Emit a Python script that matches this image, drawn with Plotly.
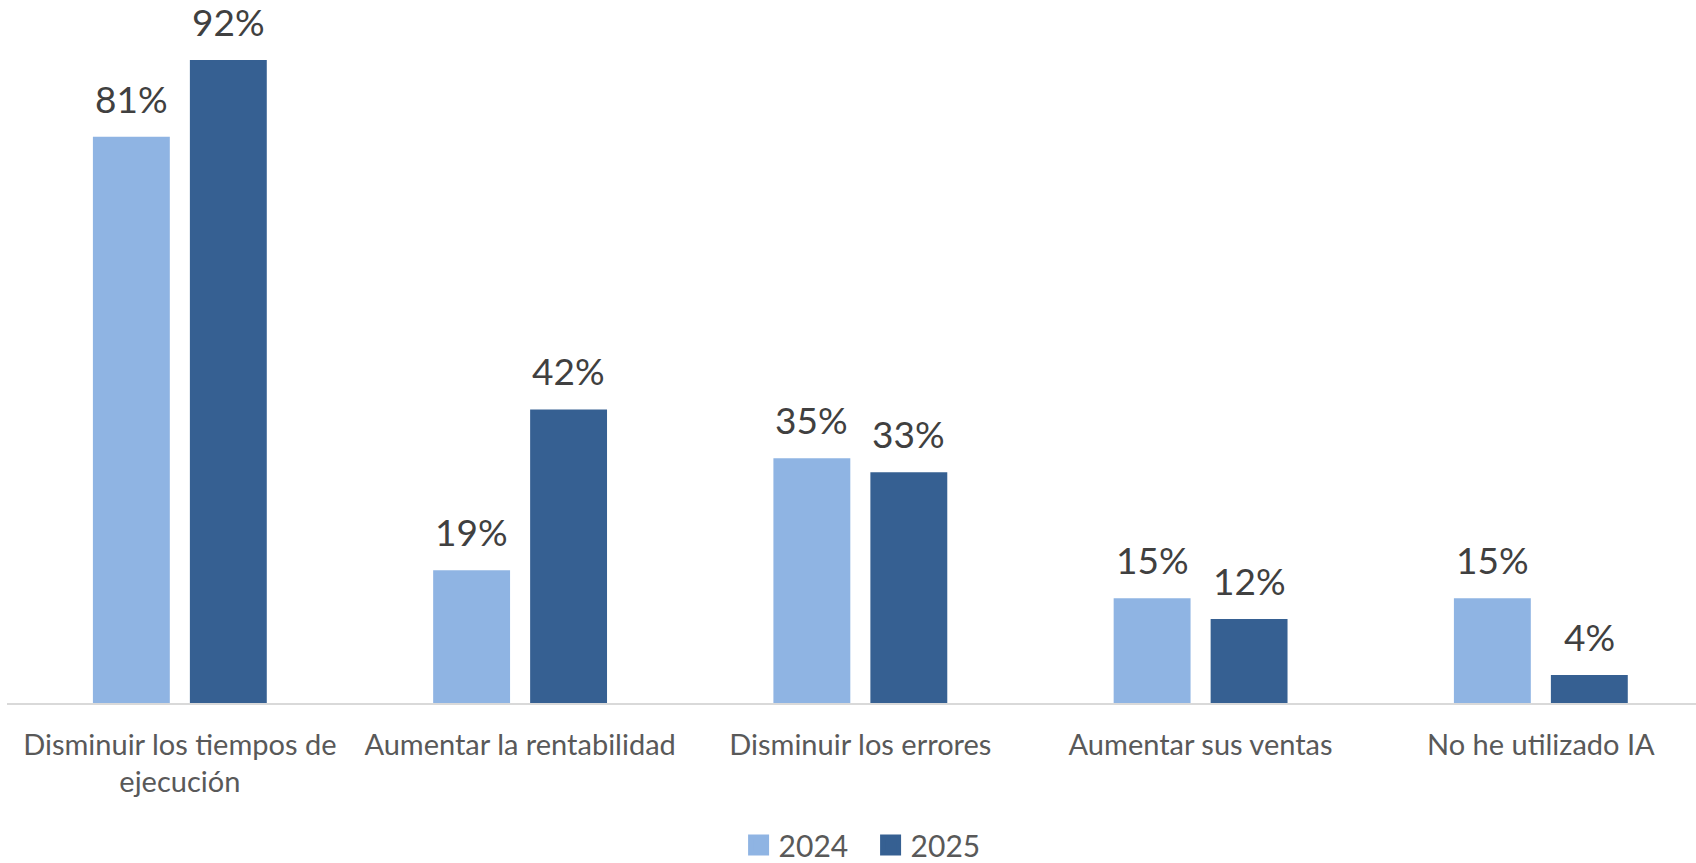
import plotly.graph_objects as go

categories = [
    "Disminuir los tiempos de<br>ejecución",
    "Aumentar la rentabilidad",
    "Disminuir los errores",
    "Aumentar sus ventas",
    "No he utilizado IA",
]
series_names = ["2024", "2025"]
values_2024 = [0.81, 0.19, 0.35, 0.15, 0.15]
values_2025 = [0.92, 0.42, 0.33, 0.12, 0.04]
colors = ["#8FB4E3", "#366092"]

FONT = "Lato"
label_color = "#404040"
axis_text_color = "#595959"

fig = go.Figure()
for name, vals, col in zip(series_names, [values_2024, values_2025], colors):
    fig.add_trace(go.Bar(
        x=categories, y=vals, name=name, marker=dict(color=col, line=dict(width=0)),
        showlegend=False, hoverinfo="skip",
    ))
# legend-only proxies with larger square swatches
for name, col in zip(series_names, colors):
    fig.add_trace(go.Scatter(
        x=[None], y=[None], mode="markers", name=name,
        marker=dict(symbol="square", size=16, color=col, line=dict(color=col, width=5)),
        showlegend=True,
    ))

# value labels above bars
annotations = []
for vals, shift in zip([values_2024, values_2025], [-48.5, 48.5]):
    for c, v in zip(categories, vals):
        annotations.append(dict(
            x=c, y=v, xref="x", yref="y", text=f"{round(v*100)}%",
            showarrow=False, xanchor="center", yanchor="bottom",
            xshift=shift, yshift=14,
            font=dict(family=FONT, size=37, color=label_color),
        ))

fig.update_layout(
    width=1696, height=863,
    margin=dict(l=7, r=0, t=4, b=160),
    paper_bgcolor="white", plot_bgcolor="white",
    barmode="group", bargap=0.43, bargroupgap=0.207,
    font=dict(family=FONT, color=axis_text_color),
    annotations=annotations,
    legend=dict(
        orientation="h", x=0.5113, xanchor="center",
        yref="container", y=0.0209, yanchor="middle",
        font=dict(family=FONT, size=30, color=axis_text_color),
        itemsizing="trace", bgcolor="rgba(0,0,0,0)",
        entrywidth=87, entrywidthmode="pixels",
    ),
    xaxis=dict(
        type="category", range=[-0.508, 4.456],
        showline=True, linecolor="#D9D9D9", linewidth=1.5,
        showgrid=False, zeroline=False, ticks="",
        tickfont=dict(family=FONT, size=29, color=axis_text_color),
        ticklabelstandoff=15,
    ),
    yaxis=dict(
        range=[0, 1], visible=False, showgrid=False, zeroline=False,
    ),
)

fig.write_html(
    "out.html",
    config={"displayModeBar": False},
    post_script="document.body.style.margin='0';",
)
